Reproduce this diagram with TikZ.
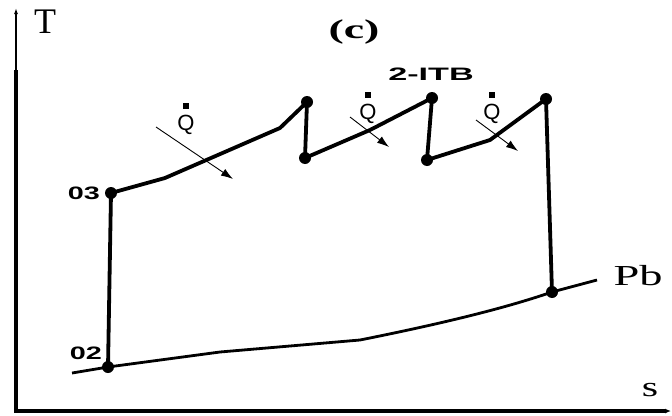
\documentclass[tikz,border=0pt]{standalone}
\usepackage{fontspec}
\setmainfont{Liberation Serif}
\newfontfamily\lblfont{Liberation Sans}
\usepackage{tikz}
\usetikzlibrary{arrows.meta, calc}

\tikzset{
  process/.style={line width=3.8pt, line join=round},
  stateDot/.style={circle, fill=black, inner sep=0pt, minimum size=12pt},
  heatArrow/.style={line width=0.9pt, -{Latex[length=12pt, width=8pt]}},
  stateLabel/.style={font=\lblfont\bfseries\fontsize{18}{20}\selectfont},
  qLabel/.style={font=\lblfont\fontsize{22}{24}\selectfont}
}

\begin{document}
\begin{tikzpicture}[x=1pt, y=-1pt]
  \useasboundingbox (0,0) rectangle (672,415);

  % axes
  \coordinate (origin) at (16,411);
  \coordinate (Ttop) at (16,8);
  \coordinate (sEnd) at (671,411);
  \draw[line width=3.4pt] (origin) -- (16,70);
  \draw[line width=2pt, -{Latex[length=6pt, width=4pt]}] (16,72) -- (Ttop);
  \draw[line width=3.4pt, -{Latex[length=6pt, width=5pt]}] (14.3,411) -- (sEnd);
  \node (Tlbl) at (45,22) {\fontsize{36}{38}\selectfont T};
  \node (slbl) at (650,390) {\scalebox{1.5}[1]{\fontsize{28}{30}\selectfont s}};
  \node (title) at (354,32) {\scalebox{1.7}[1]{\fontsize{27}{29}\selectfont\bfseries (c)}};

  % states
  \coordinate (s02) at (108,367);
  \coordinate (s03) at (111,193);
  \coordinate (a1) at (307,102);
  \coordinate (b1) at (305,158);
  \coordinate (a2) at (432,98);
  \coordinate (b2) at (427,160);
  \coordinate (a3) at (546,99);
  \coordinate (s5) at (552,292);

  % low pressure line
  \draw[line width=2.8pt] (72,373) -- (s02) -- (220,352) -- (360,340)
    .. controls (430,326) and (500,310) .. (s5) -- (597,280);
  \node (Pb) at (638,276) {\scalebox{1.6}[1]{\fontsize{29}{31}\selectfont Pb}};

  % cycle
  \draw[process] (s02) -- (s03);
  \draw[process] (s03) -- (165,178) -- (280,128) -- (a1) -- (b1)
    -- (370,130) -- (a2) -- (b2) -- (490,140) -- (a3) -- (s5);

  \foreach \p in {s02,s03,a1,b1,a2,b2,a3,s5}
    \node[stateDot] at (\p) {};

  \node[stateLabel] (l02) at (86,353) {\scalebox{1.6}[1]{02}};
  \node[stateLabel] (l03) at (84,193) {\scalebox{1.6}[1]{03}};
  \node[stateLabel] (itb) at (431,74) {\scalebox{1.9}[1]{2-ITB}};

  % heat input
  \coordinate (q1s) at (156,127); \coordinate (q1e) at (233,179);
  \coordinate (q2s) at (350,117); \coordinate (q2e) at (389,147);
  \coordinate (q3s) at (476,120); \coordinate (q3e) at (518,151);
  \draw[heatArrow] (q1s) -- (q1e);
  \draw[heatArrow] (q2s) -- (q2e);
  \draw[heatArrow] (q3s) -- (q3e);
  \node[qLabel] (Q1) at (186,125) {Q};
  \node[qLabel] (Q2) at (368,114) {Q};
  \node[qLabel] (Q3) at (492,114) {Q};
  \foreach \q in {Q1,Q2,Q3}
    \fill ($(\q.north)+(-3.5,-2.5)$) rectangle ++(6,-6);
\end{tikzpicture}
\end{document}
